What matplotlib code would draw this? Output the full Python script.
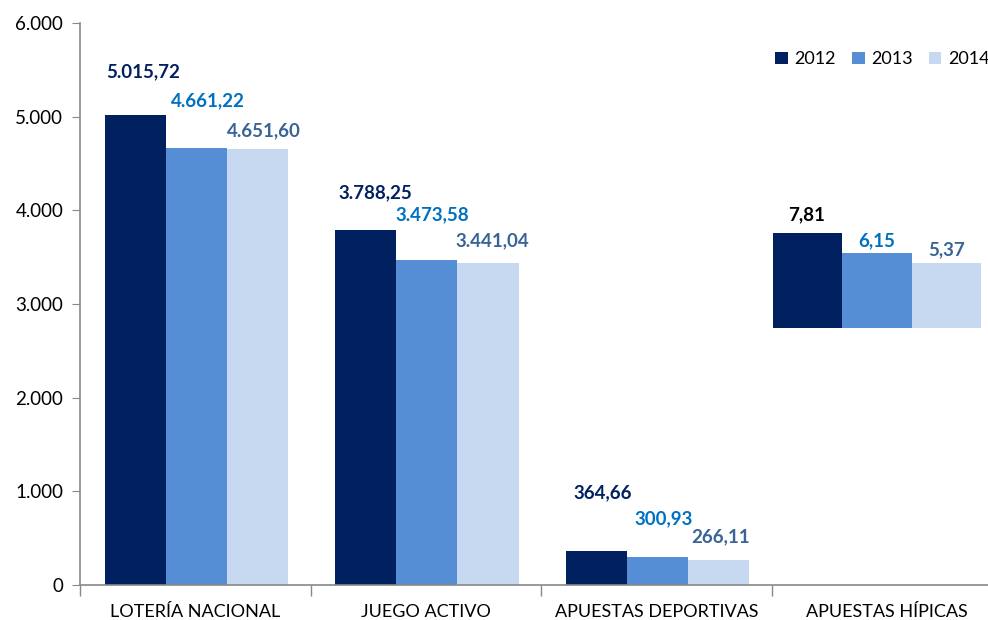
import numpy as np
import matplotlib.pyplot as plt
from matplotlib.ticker import FuncFormatter

plt.rcParams['font.family'] = ['Lato', 'DejaVu Sans']

categorias = ["LOTERÍA NACIONAL", "JUEGO ACTIVO", "APUESTAS DEPORTIVAS", "APUESTAS HÍPICAS"]
anios = ["2012", "2013", "2014"]
v2012 = [5015.72, 3788.25, 364.66, 7.81]
v2013 = [4661.22, 3473.58, 300.93, 6.15]
v2014 = [4651.60, 3441.04, 266.11, 5.37]

colores = ["#002060", "#558ED5", "#C6D9F1"]
colores_txt = ["#002060", "#0070C0", "#3A6496"]

# desplazamiento manual de las etiquetas (px arriba de la barra, px a la derecha)
offs_y = [[43, 37, 58, 19], [48, 45, 38, 13], [19, 22, 23, 13]]
offs_x = [[8, 9, 6, -1], [12, 5, 6, 0], [6, 4, 2, 0]]

# hipicas: barras ampliadas dentro del grafico
base_hip = 2740
escala_hip = 130


def fmt_es(v):
    s = f"{v:,.2f}"
    return s.replace(",", "X").replace(".", ",").replace("X", ".")


fig = plt.figure(figsize=(9.88, 6.2), dpi=100)
ax = fig.add_axes([80/988, 35/620, 922/988, 562/620])

x = np.arange(len(categorias))
series = [v2012, v2013, v2014]
ancho = 0.265
for j, vals in enumerate(series):
    for i, v in enumerate(vals):
        if i < 3:
            xc = x[i] + (j - 1) * ancho + 0.005
            bot = 0
            h = v
            col_t = colores_txt[j]
        else:
            w4 = 0.30
            xc = x[i] - 0.042 + (j - 1) * w4
            bot = base_hip
            h = v * escala_hip
            col_t = "black" if j == 0 else colores_txt[j]
        w = ancho if i < 3 else 0.30
        ax.bar(xc, h, width=w, bottom=bot, color=colores[j],
               label=anios[j] if i == 0 else None)
        ax.annotate(fmt_es(v), (xc, bot + h), xytext=(offs_x[j][i], offs_y[j][i]),
                    textcoords="offset pixels", ha="center", va="center",
                    fontsize=13.5, fontweight="bold", color=col_t)

ax.set_xlim(-0.5, 3.5)
ax.set_ylim(0, 6000)
ax.set_yticks(np.arange(0, 6001, 1000))
ax.yaxis.set_major_formatter(FuncFormatter(lambda v, p: f"{int(v):,}".replace(",", ".")))
ax.set_xticks(x)
ax.set_xticklabels(categorias)
ax.set_xticks(np.arange(-0.5, 3.6, 1), minor=True)
ax.tick_params(axis="x", which="major", length=0, pad=14, labelsize=13)
ax.tick_params(axis="x", which="minor", length=8, color="#888888", width=1)
ax.tick_params(axis="y", length=6, color="#888888", labelsize=13.5, pad=6)

for s in ["top", "right"]:
    ax.spines[s].set_visible(False)
for s in ["left", "bottom"]:
    ax.spines[s].set_color("#888888")
    ax.spines[s].set_linewidth(1.2)

ax.legend(loc="upper right", bbox_to_anchor=(1.0, 0.972), ncol=3, frameon=False,
          fontsize=13, handlelength=0.7, handleheight=0.7, handletextpad=0.35,
          columnspacing=0.9, borderaxespad=0.3)

plt.savefig("out.png", dpi=100)
